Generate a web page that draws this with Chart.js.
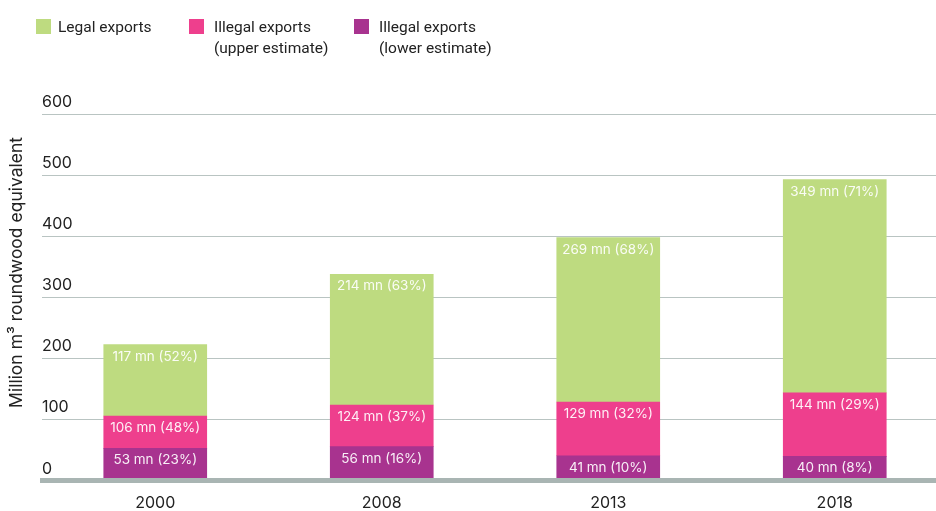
<!DOCTYPE html>
<html>
<head>
<meta charset="utf-8">
<script src="https://cdn.jsdelivr.net/npm/chart.js@4"></script>
<style>
  html, body { margin: 0; padding: 0; background: #fff; overflow: hidden; }
  body { width: 936px; height: 511px; position: relative; font-family: Roboto, "Noto Sans", sans-serif; color: #222; }
  #chart { position: absolute; left: 0; top: 0; }
  .key { position: absolute; top: 19px; font-size: 15.5px; line-height: 21px; }
  .key i { position: absolute; left: 0; top: 0; width: 15px; height: 15px; }
  .key span { position: absolute; top: -2px; white-space: nowrap; }
</style>
</head>
<body>
<!-- canvas runs a little past the window so the plot spans the full width -->
<canvas id="chart" width="948" height="526"></canvas>
<div class="key" style="left:36px"><i style="background:#bedb80"></i><span style="left:22px">Legal exports</span></div>
<div class="key" style="left:189px"><i style="background:#ee3f8d"></i><span style="left:25px">Illegal exports<br>(upper estimate)</span></div>
<div class="key" style="left:354px"><i style="background:#a8338f"></i><span style="left:25px">Illegal exports<br>(lower estimate)</span></div>
<script>
const years = ['2000', '2008', '2013', '2018'];
const legal = [117, 214, 269, 349];
const legalPct = [52, 63, 68, 71];
const illegalUpper = [106, 124, 129, 144];
const illegalUpperPct = [48, 37, 32, 29];
const illegalLower = [53, 56, 41, 40];
const illegalLowerPct = [23, 16, 10, 8];
const yTicks = [0, 100, 200, 300, 400, 500, 600];

const COLORS = { legal: '#bedb80', upper: '#ee3f8d', lower: '#a8338f' };

// pink segment spans from the lower estimate up to the upper estimate
const upperGap = illegalUpper.map((v, i) => v - illegalLower[i]);

const segLabels = [
  illegalLower.map((v, i) => `${v} mn (${illegalLowerPct[i]}%)`),
  illegalUpper.map((v, i) => `${v} mn (${illegalUpperPct[i]}%)`),
  legal.map((v, i) => `${v} mn (${legalPct[i]}%)`),
];

const segmentText = {
  id: 'segmentText',
  afterDatasetsDraw(chart) {
    const { ctx } = chart;
    ctx.save();
    ctx.font = '13.5px Inter, "Noto Sans", sans-serif';
    ctx.fillStyle = 'rgba(255,255,255,0.92)';
    ctx.textAlign = 'center';
    ctx.textBaseline = 'middle';
    chart.data.datasets.forEach((ds, di) => {
      chart.getDatasetMeta(di).data.forEach((bar, i) => {
        ctx.fillText(segLabels[di][i], bar.x, bar.y + 12);
      });
    });
    ctx.restore();
  },
};

new Chart(document.getElementById('chart'), {
  type: 'bar',
  data: {
    labels: years,
    datasets: [
      { label: 'Illegal exports (lower estimate)', data: illegalLower, backgroundColor: COLORS.lower },
      { label: 'Illegal exports (upper estimate)', data: upperGap, backgroundColor: COLORS.upper },
      { label: 'Legal exports', data: legal, backgroundColor: COLORS.legal },
    ],
  },
  options: {
    responsive: false,
    animation: false,
    barThickness: 103,
    layout: { padding: { top: 64, bottom: 0, left: 0, right: 0 } },
    plugins: {
      legend: { display: false },
      tooltip: { enabled: false },
    },
    scales: {
      x: {
        stacked: true,
        grid: { display: false, drawTicks: false },
        border: { display: true, width: 5, color: '#a9b5b3', z: 1 },
        ticks: { color: '#222', font: { size: 16, family: 'Inter' }, padding: 13 },
      },
      y: {
        stacked: true,
        min: 0,
        max: 682,
        afterBuildTicks: axis => { axis.ticks = yTicks.map(v => ({ value: v })); },
        grid: { color: '#b9c4c2', lineWidth: 1, drawTicks: false },
        border: { display: false },
        ticks: {
          mirror: true,
          padding: 0,
          labelOffset: -12,
          color: '#222',
          font: { size: 16, family: 'Inter' },
        },
        title: {
          display: true,
          text: 'Million m³ roundwood equivalent',
          color: '#222',
          font: { size: 17.5, family: 'Inter' },
          padding: { top: 6, bottom: 15 },
        },
      },
    },
  },
  plugins: [segmentText],
});
</script>
</body>
</html>
